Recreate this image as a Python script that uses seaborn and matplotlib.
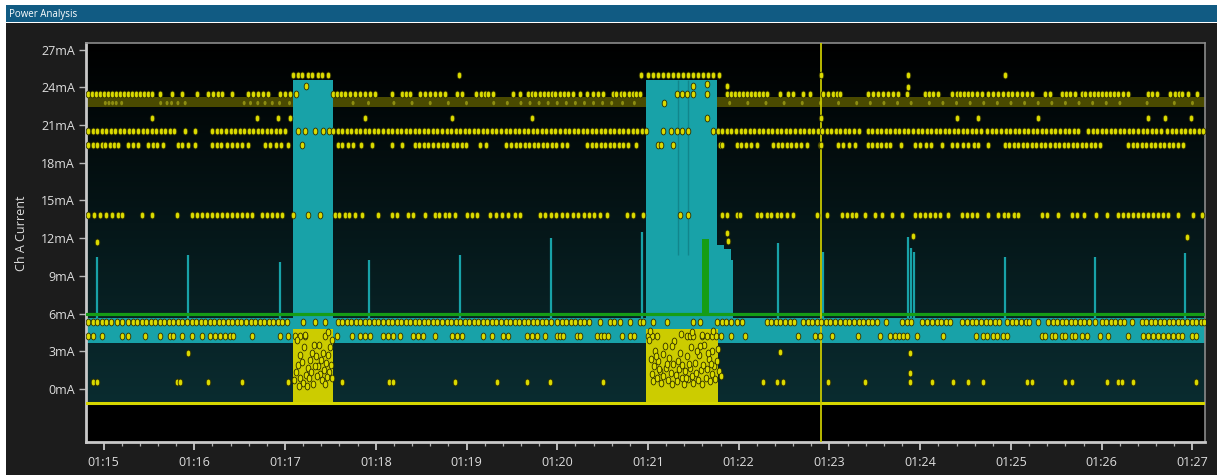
import numpy as np
import pandas as pd
import matplotlib
matplotlib.use("Agg")
import matplotlib.pyplot as plt
import seaborn as sns
from matplotlib.path import Path
from matplotlib.transforms import Affine2D
from matplotlib.patches import Rectangle
from matplotlib.ticker import MultipleLocator, FuncFormatter, FixedLocator
from matplotlib.colors import LinearSegmentedColormap

# ---------------- data (time in minutes past 01:00, current in mA) ----------------
row_a_ma = 23.5
row_a_t = [14.83, 14.87, 14.92, 14.96, 15.01, 15.05, 15.09, 15.14, 15.18, 15.23, 15.27, 15.31,
           15.36, 15.40, 15.45, 15.49, 15.53, 15.62, 15.75, 15.86, 16.03, 16.15, 16.21, 16.26,
           16.31, 16.42, 16.59, 16.65, 16.70, 16.76, 16.81, 16.95, 17.00, 17.06, 17.12,
           17.53, 17.57, 17.62, 17.66, 17.72, 17.77, 17.83, 17.88, 17.94, 17.99, 18.18, 18.29,
           18.33, 18.38, 18.49, 18.54, 18.60, 18.65, 18.71, 18.76, 18.90, 18.95, 19.11, 19.16,
           19.20, 19.24, 19.29, 19.51, 19.59, 19.68, 19.72, 19.76, 19.81, 19.85, 19.90, 19.94,
           19.98, 20.03, 20.07, 20.12, 20.17, 20.25, 20.33, 20.39, 20.45, 20.50, 20.61, 20.65,
           20.70, 20.74, 20.79, 20.83, 20.87, 20.91, 21.32, 21.37, 21.43, 21.50, 21.65, 21.87,
           21.92, 21.96, 22.00, 22.05, 22.09, 22.14, 22.18, 22.22, 22.27, 22.31, 22.45, 22.54,
           22.60, 22.71, 22.78, 22.93, 22.98, 23.04, 23.08, 23.12, 23.42, 23.48, 23.53, 23.59,
           23.64, 23.70, 23.75, 23.85, 24.05, 24.10, 24.14, 24.20, 24.35, 24.40, 24.44, 24.48,
           24.53, 24.57, 24.63, 24.68, 24.75, 24.80, 24.86, 24.91, 24.97, 25.01, 25.07, 25.12,
           25.18, 25.23, 25.38, 25.43, 25.56, 25.61, 25.65, 25.70, 25.78, 25.82, 25.87, 25.91,
           25.96, 26.00, 26.05, 26.09, 26.13, 26.18, 26.23, 26.29, 26.51, 26.55, 26.61, 26.75,
           26.81, 26.85, 26.88, 26.95, 27.05]

row_b_ma = 22.75
row_b_t = [15.02, 15.06, 15.10, 15.14, 15.20, 15.63, 15.70, 15.75, 15.82, 15.90, 16.55, 16.62,
           16.70, 16.78, 16.86, 16.94, 17.05, 17.20, 17.30, 17.38, 17.46, 17.75, 17.92, 18.20,
           18.40, 18.60, 18.80, 19.00, 19.30, 19.45, 19.60, 19.70, 19.80, 19.90, 20.00, 20.10,
           20.20, 20.30, 20.40, 20.50, 20.60, 20.72, 20.85, 21.10, 21.20, 21.30, 21.40, 21.50,
           21.60, 21.70, 21.90, 22.10, 22.30, 22.50, 22.70, 22.90, 23.10, 23.30, 23.45, 23.60,
           23.75, 23.90, 24.10, 24.25, 24.40, 24.55, 24.70, 24.85, 25.00, 25.15, 25.30, 25.45,
           25.60, 25.75, 25.90, 26.05, 26.20, 26.50, 26.80, 27.00]

row_c_ma = 20.55
row_c_t = [14.83, 14.88, 14.93, 14.98, 15.03, 15.08, 15.13, 15.18, 15.23, 15.28, 15.33, 15.38,
           15.43, 15.48, 15.53, 15.58, 15.63, 15.68, 15.73, 15.78, 15.90, 16.01, 16.20, 16.25,
           16.30, 16.35, 16.40, 16.45, 16.50, 16.55, 16.60, 16.65, 16.70, 16.75, 16.80, 16.85,
           16.90, 16.95, 17.00, 17.14, 17.22, 17.33, 17.42, 17.48, 17.53, 17.58, 17.63, 17.68,
           17.73, 17.78, 17.83, 17.88, 17.93, 17.98, 18.03, 18.08, 18.13, 18.18, 18.23, 18.28,
           18.33, 18.38, 18.43, 18.48, 18.53, 18.58, 18.63, 18.68, 18.73, 18.78, 18.83, 18.88,
           18.93, 18.98, 19.03, 19.08, 19.13, 19.18, 19.23, 19.28, 19.33, 19.38, 19.43, 19.48,
           19.53, 19.58, 19.63, 19.68, 19.73, 19.78, 19.83, 19.88, 19.93, 19.98, 20.03, 20.08,
           20.13, 20.18, 20.23, 20.28, 20.33, 20.38, 20.43, 20.48, 20.53, 20.58, 20.63, 20.68,
           20.73, 20.78, 20.83, 20.88, 20.93, 20.98, 21.17, 21.25, 21.32, 21.37, 21.44, 21.72,
           21.77, 21.82, 21.87, 21.92, 21.97, 22.02, 22.07, 22.12, 22.17, 22.22, 22.27, 22.32,
           22.37, 22.42, 22.47, 22.52, 22.57, 22.62, 22.67, 22.72, 22.77, 22.82, 22.87, 22.92,
           22.97, 23.02, 23.07, 23.12, 23.17, 23.22, 23.27, 23.32, 23.42, 23.47, 23.52, 23.57,
           23.62, 23.67, 23.72, 23.77, 23.82, 23.87, 23.92, 23.97, 24.02, 24.07, 24.12, 24.17,
           24.22, 24.27, 24.32, 24.37, 24.42, 24.47, 24.52, 24.57, 24.62, 24.67, 24.74, 24.79,
           24.84, 24.89, 24.94, 24.99, 25.04, 25.09, 25.14, 25.19, 25.24, 25.29, 25.34, 25.39,
           25.44, 25.49, 25.54, 25.59, 25.64, 25.69, 25.74, 25.85, 25.90, 25.95, 26.00, 26.05,
           26.10, 26.15, 26.20, 26.25, 26.30, 26.35, 26.40, 26.45, 26.50, 26.55, 26.60, 26.65,
           26.72, 26.77, 26.82, 26.87, 26.92, 26.97, 27.02, 27.07, 27.12]

row_d_ma = 19.4
row_d_t = [14.83, 14.88, 14.93, 14.98, 15.02, 15.07, 15.12, 15.16, 15.27, 15.32, 15.38, 15.49,
           15.54, 15.59, 15.66, 15.82, 15.87, 15.93, 16.01, 16.20, 16.25, 16.30, 16.36, 16.42,
           16.47, 16.53, 16.59, 16.78, 16.84, 16.90, 16.96, 17.03, 17.19, 17.58, 17.63, 17.69,
           17.75, 17.84, 17.96, 18.18, 18.29, 18.43, 18.48, 18.53, 18.58, 18.63, 18.69, 18.74,
           18.79, 18.85, 18.90, 18.95, 18.99, 19.15, 19.22, 19.44, 19.49, 19.54, 19.59, 19.64,
           19.69, 19.74, 19.79, 19.84, 19.89, 19.94, 19.99, 20.05, 20.11, 20.33, 20.38, 20.43,
           20.48, 20.53, 20.58, 20.63, 20.68, 20.73, 20.78, 20.87, 21.11, 21.14, 21.28, 21.79,
           21.82, 21.98, 22.03, 22.08, 22.13, 22.20, 22.38, 22.43, 22.48, 22.53, 22.58, 22.63,
           22.69, 22.75, 22.90, 23.09, 23.15, 23.21, 23.28, 23.42, 23.47, 23.52, 23.57, 23.62,
           23.67, 23.79, 23.94, 24.00, 24.06, 24.12, 24.24, 24.35, 24.41, 24.47, 24.53, 24.59,
           24.64, 24.75, 24.93, 24.98, 25.03, 25.08, 25.13, 25.18, 25.23, 25.28, 25.33, 25.38,
           25.43, 25.48, 25.53, 25.58, 25.63, 25.68, 25.73, 25.78, 25.83, 25.88, 25.93, 25.98,
           26.29, 26.34, 26.39, 26.44, 26.49, 26.54, 26.59, 26.64, 26.69, 26.74, 26.79, 26.84,
           26.90]

row_e_ma = 21.55
row_e_t = [15.53, 16.69, 16.92, 17.06, 17.88, 18.84, 19.72, 21.65, 22.91, 24.41, 24.64, 25.30,
           26.51, 26.70, 26.98]

row_top_ma = 25.0
row_top_t = [17.09, 17.14, 17.19, 17.25, 17.30, 17.36, 17.41, 17.47, 18.92, 20.92, 21.00,
             21.06, 21.11, 21.17, 21.22, 21.28, 21.33, 21.39, 21.44, 21.50, 21.55, 21.61,
             21.66, 21.72, 21.78, 22.91, 23.86, 24.93]

row_f_ma = 13.85
row_f_t = [14.83, 14.90, 14.96, 15.03, 15.09, 15.16, 15.20, 15.42, 15.53, 15.81, 15.98, 16.03,
           16.09, 16.14, 16.20, 16.25, 16.31, 16.36, 16.42, 16.47, 16.53, 16.58, 16.64, 16.75,
           16.80, 16.86, 16.91, 16.97, 17.09, 17.25, 17.39, 17.55, 17.60, 17.66, 17.71, 17.77,
           17.85, 18.02, 18.18, 18.23, 18.35, 18.41, 18.54, 18.65, 18.70, 18.76, 18.81, 18.87,
           19.01, 19.06, 19.12, 19.26, 19.33, 19.39, 19.46, 19.53, 19.59, 19.81, 19.87, 19.93,
           19.99, 20.05, 20.11, 20.17, 20.23, 20.29, 20.35, 20.41, 20.47, 20.55, 20.77, 20.83,
           20.94, 21.35, 21.44, 21.82, 21.87, 21.98, 22.01, 22.20, 22.25, 22.31, 22.36, 22.42,
           22.47, 22.53, 22.60, 22.86, 22.97, 23.14, 23.19, 23.25, 23.29, 23.39, 23.50, 23.58,
           23.69, 23.80, 23.94, 24.00, 24.05, 24.11, 24.16, 24.22, 24.31, 24.46, 24.52, 24.57,
           24.63, 24.75, 24.86, 24.92, 24.97, 25.03, 25.08, 25.34, 25.40, 25.52, 25.67, 25.73,
           25.80, 25.94, 26.06, 26.18, 26.23, 26.29, 26.34, 26.40, 26.45, 26.51, 26.56, 26.62,
           26.67, 26.73, 26.84, 27.01, 27.10]

row_h_ma = 5.33
row_h_t = [14.83, 14.88, 14.93, 14.98, 15.03, 15.08, 15.15, 15.20, 15.27, 15.32, 15.37, 15.42,
           15.47, 15.52, 15.57, 15.62, 15.67, 15.72, 15.77, 15.82, 15.87, 15.92, 15.97, 16.02,
           16.07, 16.12, 16.17, 16.22, 16.27, 16.32, 16.37, 16.42, 16.47, 16.52, 16.57, 16.62,
           16.67, 16.72, 16.77, 16.82, 16.87, 16.92, 16.97, 17.02, 17.20, 17.33, 17.44, 17.58,
           17.63, 17.68, 17.73, 17.78, 17.83, 17.88, 17.93, 17.98, 18.03, 18.08, 18.13, 18.18,
           18.23, 18.28, 18.33, 18.38, 18.43, 18.48, 18.53, 18.58, 18.63, 18.68, 18.73, 18.78,
           18.83, 18.88, 18.93, 18.98, 19.03, 19.08, 19.13, 19.18, 19.23, 19.28, 19.33, 19.38,
           19.43, 19.48, 19.53, 19.58, 19.63, 19.68, 19.73, 19.78, 19.83, 19.88, 19.93, 20.00,
           20.05, 20.10, 20.15, 20.20, 20.25, 20.30, 20.35, 20.47, 20.58, 20.63, 20.69, 20.80,
           20.91, 20.94, 21.06, 21.21, 21.50, 21.57, 21.76, 21.81, 21.86, 21.91, 21.98, 22.04,
           22.31, 22.36, 22.41, 22.46, 22.51, 22.56, 22.61, 22.71, 22.76, 22.81, 22.86, 22.91,
           22.96, 23.01, 23.06, 23.12, 23.17, 23.22, 23.27, 23.32, 23.37, 23.42, 23.47, 23.52,
           23.62, 23.80, 23.85, 23.90, 24.02, 24.08, 24.13, 24.18, 24.23, 24.28, 24.33, 24.46,
           24.52, 24.57, 24.62, 24.67, 24.72, 24.77, 24.82, 24.87, 24.96, 25.01, 25.06, 25.11,
           25.16, 25.20, 25.30, 25.41, 25.46, 25.51, 25.56, 25.61, 25.66, 25.71, 25.76, 25.81,
           25.86, 25.93, 26.00, 26.05, 26.10, 26.15, 26.20, 26.25, 26.33, 26.44, 26.49, 26.54,
           26.59, 26.64, 26.69, 26.74, 26.79, 26.84, 26.89, 26.94, 26.99, 27.04, 27.09, 27.13]

row_i_ma = 4.22
row_i_t = [14.83, 14.88, 14.98, 15.20, 15.27, 15.46, 15.62, 15.73, 15.77, 15.87, 15.98, 16.09,
           16.17, 16.23, 16.28, 16.34, 16.39, 16.43, 16.64, 16.94, 17.03, 17.11, 17.16, 17.22,
           17.44, 17.57, 17.74, 17.83, 17.88, 17.94, 18.08, 18.13, 18.19, 18.27, 18.41, 18.47,
           18.52, 18.65, 18.84, 18.90, 18.95, 19.18, 19.28, 19.40, 19.46, 19.67, 19.72, 19.78,
           19.87, 20.00, 20.03, 20.06, 20.22, 20.25, 20.44, 20.48, 20.52, 20.56, 20.71, 20.80,
           20.85, 21.00, 21.04, 21.10, 21.43, 21.46, 21.50, 21.60, 21.65, 21.71, 21.75, 21.80,
           21.91, 22.07, 22.65, 22.84, 22.90, 23.03, 23.31, 23.56, 23.67, 23.72, 23.77, 23.81,
           23.85, 23.96, 24.25, 24.62, 24.69, 24.74, 24.80, 24.85, 24.91, 24.96, 25.34, 25.38,
           25.45, 25.49, 25.56, 25.60, 25.67, 25.71, 25.78, 25.84, 25.98, 26.07, 26.29, 26.45,
           26.51, 26.56, 26.62, 26.67, 26.73, 26.78, 26.84, 26.89, 26.99, 27.04]

row_j_ma = 0.56
row_j_t = [14.88, 14.93, 15.81, 15.84, 16.15, 16.53, 17.03, 17.63, 18.15, 18.19, 18.87, 19.34,
           19.67, 19.92, 20.50, 22.27, 22.42, 22.49, 22.98, 23.39, 23.89, 24.13, 24.36, 24.53,
           24.69, 25.18, 25.23, 25.59, 25.67, 26.06, 26.18, 26.22, 26.34, 27.04]

# scattered single readings
extra_t = [14.93, 15.93, 22.45, 23.89, 23.89, 23.92, 26.94, 21.87, 21.88, 17.23, 21.50, 21.65,
           21.87, 23.86, 21.18, 22.91]
extra_ma = [11.7, 2.9, 2.95, 2.9, 1.3, 12.2, 12.1, 12.4, 11.8, 24.1, 24.1, 24.3,
            24.1, 24.0, 22.75, 19.4]

# dense readings during the two active bursts
burst1_t = [17.13, 17.17, 17.14, 17.12, 17.17, 17.20, 17.23, 17.25, 17.28, 17.30, 17.32, 17.34,
            17.36, 17.39, 17.41, 17.43, 17.45, 17.47, 17.50, 17.52, 17.21, 17.26, 17.31, 17.35,
            17.40, 17.44, 17.48, 17.51, 17.15, 17.24, 17.33, 17.37, 17.42, 17.46, 17.19, 17.29,
            17.22, 17.47, 17.10, 17.52]
burst1_ma = [3.9, 2.7, 1.9, 1.35, 0.9, 0.5, 1.1, 1.7, 2.3, 2.9, 3.5, 2.6,
             1.8, 1.2, 0.7, 1.5, 2.1, 2.7, 3.3, 3.9, 3.3, 0.9, 0.4, 1.0,
             2.3, 0.4, 1.35, 1.9, 0.25, 0.25, 1.8, 3.5, 2.9, 0.95, 2.15, 1.35,
             4.3, 4.5, 0.7, 0.9]
burst2_t = [21.01, 21.03, 21.04, 21.05, 21.07, 21.08, 21.10, 21.11, 21.13, 21.14, 21.16, 21.17,
            21.19, 21.20, 21.22, 21.23, 21.25, 21.26, 21.28, 21.29, 21.31, 21.32, 21.34, 21.35,
            21.37, 21.38, 21.40, 21.41, 21.43, 21.44, 21.46, 21.47, 21.49, 21.50, 21.52, 21.53,
            21.55, 21.56, 21.58, 21.59, 21.61, 21.62, 21.64, 21.65, 21.67, 21.68, 21.70, 21.71,
            21.73, 21.74, 21.76, 21.78, 21.02, 21.36, 21.48, 21.60, 21.72, 21.26, 21.57, 21.80,
            21.12, 21.21, 21.33, 21.45, 21.66, 21.09, 21.42, 21.54, 21.69, 21.77]
burst2_ma = [3.9, 2.4, 1.2, 0.6, 1.8, 3.0, 0.9, 2.2, 1.4, 0.5, 2.8, 1.0,
             3.4, 1.7, 0.7, 2.5, 1.3, 0.4, 2.0, 3.8, 1.1, 0.6, 1.6, 2.9,
             0.9, 1.9, 0.4, 1.4, 2.6, 0.8, 1.7, 3.3, 1.0, 0.5, 2.1, 1.3,
             0.7, 2.7, 1.5, 0.4, 1.9, 3.5, 0.9, 1.6, 2.4, 0.6, 1.2, 3.0,
             1.8, 0.8, 2.2, 1.4, 4.6, 4.4, 4.5, 4.3, 4.6, 3.4, 3.4, 1.0,
             1.6, 2.0, 2.2, 2.0, 2.9, 2.6, 0.9, 3.0, 2.0, 3.2]

# ranges / levels
baseline_ma = -1.09
floor_band = (3.65, 5.65)
upper_band = (22.45, 23.2)
limit_ma = 6.0
burst_start = [17.09, 20.98]
burst_end = [17.53, 21.76]
burst_top = [24.6, 24.6]
burst_low_top = 4.8
burst_yel_end = [17.53, 21.77]
spike_t = [14.93, 15.93, 16.95, 17.93, 18.93, 19.93, 20.93, 22.43, 22.93, 23.87, 23.90, 23.93,
           24.93, 25.93, 26.92]
spike_top = [10.5, 10.7, 10.1, 10.3, 10.65, 12.05, 12.5, 11.6, 10.9, 12.1, 11.2, 10.9,
             10.5, 10.5, 10.85]
tail_t = [21.76, 21.84, 21.91, 21.94]
tail_top = [11.45, 11.1, 10.3, 10.3]
inner_t = [21.33, 21.44]
inner_low = 10.7
green_bar_t = [21.59, 21.67]
green_bar_top = 11.9
cursor_t = 22.91
x_range = (14.807, 27.138)
y_range = (-4.22, 27.53)
y_ticks = [0, 3, 6, 9, 12, 15, 18, 21, 24, 27]
x_ticks = [15, 16, 17, 18, 19, 20, 21, 22, 23, 24, 25, 26, 27]

# ---------------- styling ----------------
sns.set_theme(style="dark")
plt.rcParams['font.family'] = ['Open Sans', 'DejaVu Sans']

TEAL = '#18a2a8'
YEL = '#d6d600'
GREEN = '#169d16'

W, H = 1217, 475
fig = plt.figure(figsize=(W / 100, H / 100), dpi=100, facecolor='white')
fig.patches.append(Rectangle((6 / W, 0), 1, (H - 23) / H, transform=fig.transFigure,
                             facecolor='#1c1c1c', edgecolor='none', zorder=-5))
fig.patches.append(Rectangle((6 / W, (H - 22) / H), 1, 17 / H, transform=fig.transFigure,
                             facecolor='#115b83', edgecolor='none', zorder=-5))
fig.text(9 / W, (H - 14) / H, "Power Analysis", color='white', fontsize=7, va='center',
         ha='left')

ax = fig.add_axes([86 / W, 33 / H, 1119 / W, 399 / H])
ax.set_zorder(2)
ax.set_facecolor('black')

# background gradient above the baseline
cmap = LinearSegmentedColormap.from_list('bg', ['#0a2c30', '#000000'])
grad = np.linspace(0, 1, 256).reshape(-1, 1)
ax.imshow(grad, extent=[x_range[0], x_range[1], baseline_ma, y_range[1]], origin='lower',
          aspect='auto', cmap=cmap, zorder=0, interpolation='bicubic')

ax.fill_between(list(x_range), upper_band[0], upper_band[1], color='#4a4a00', lw=0, zorder=1)
ax.fill_between(list(x_range), floor_band[0], floor_band[1], color=TEAL, lw=0, zorder=2)
for s, e, top in zip(burst_start, burst_end, burst_top):
    ax.fill_between([s, e], floor_band[0], top, color=TEAL, lw=0, zorder=2.5)
ax.vlines(inner_t, inner_low, burst_top[1], color='#11868c', lw=1.0, zorder=2.6)
ax.vlines(spike_t, floor_band[1] - 0.2, spike_top, color=TEAL, lw=1.6, zorder=2.5)
ax.fill_between(tail_t, floor_band[1] - 0.2, tail_top, step='post', color=TEAL, lw=0, zorder=2.5)
ax.fill_between(green_bar_t, limit_ma, green_bar_top, color=GREEN, lw=0, zorder=3)
for s, e in zip(burst_start, burst_yel_end):
    ax.fill_between([s, e], baseline_ma, burst_low_top, color='#cccc00', lw=0, zorder=3.5)
ax.axhline(limit_ma, color=GREEN, lw=2.3, zorder=4)
ax.axhline(baseline_ma, color=YEL, lw=2.2, zorder=4)
ax.axvline(cursor_t, color='#c8c800', lw=1.3, zorder=4.5)

# faint readings inside the upper band
dim = pd.DataFrame({'t': row_b_t, 'mA': [row_b_ma] * len(row_b_t)})
ell = Path.unit_circle().transformed(Affine2D().scale(0.68, 1.0))
sns.scatterplot(data=dim, x='t', y='mA', ax=ax, marker=ell, s=10, color='#8c8c10',
                edgecolor='none', linewidth=0, zorder=1.5, legend=False)

# readings
parts = []
for ts, lvl in [(row_a_t, row_a_ma), (row_c_t, row_c_ma), (row_d_t, row_d_ma),
                (row_e_t, row_e_ma), (row_top_t, row_top_ma), (row_f_t, row_f_ma),
                (row_h_t, row_h_ma), (row_i_t, row_i_ma), (row_j_t, row_j_ma)]:
    parts.append(pd.DataFrame({'t': ts, 'mA': [lvl] * len(ts)}))
parts.append(pd.DataFrame({'t': extra_t, 'mA': extra_ma}))
parts.append(pd.DataFrame({'t': burst1_t, 'mA': burst1_ma}))
parts.append(pd.DataFrame({'t': burst2_t, 'mA': burst2_ma}))
df = pd.concat(parts, ignore_index=True)

sns.scatterplot(data=df, x='t', y='mA', ax=ax, marker=ell, s=24, color='#dada00',
                edgecolor='#2e2e00', linewidth=0.6, zorder=5, legend=False)

ax.set_xlim(*x_range)
ax.set_ylim(*y_range)
ax.grid(False)
ax.set_xlabel('')
ax.set_ylabel('')

ax.yaxis.set_major_locator(FixedLocator(y_ticks))
ax.yaxis.set_major_formatter(FuncFormatter(lambda v, p: f"{int(round(v))}mA"))
ax.xaxis.set_major_locator(FixedLocator(x_ticks))
ax.xaxis.set_minor_locator(MultipleLocator(0.2))
ax.xaxis.set_major_formatter(FuncFormatter(lambda v, p: f"01:{int(round(v)):02d}"))

ax.tick_params(axis='y', which='major', left=True, length=5, width=1.0, color='#b8b8b8',
               labelcolor='#dddddd', labelsize=9, pad=3, direction='out')
ax.tick_params(axis='x', which='major', bottom=True, length=6, width=1.3, color='#c8c8c8',
               labelcolor='#dddddd', labelsize=9, pad=4, direction='out')
ax.tick_params(axis='x', which='minor', bottom=True, length=3, width=0.9, color='#b0b0b0',
               direction='out')

for side in ['left', 'bottom']:
    ax.spines[side].set_color('#c8c8c8')
    ax.spines[side].set_linewidth(2.0)
for side in ['top', 'right']:
    ax.spines[side].set_color('#8a8a8a')
    ax.spines[side].set_linewidth(1.2)
    ax.spines[side].set_visible(True)

fig.text(22 / W, (H - 233) / H, "Ch A Current", rotation=90, color='#dddddd', fontsize=9,
         ha='center', va='center')

fig.savefig('out.png', dpi=100, facecolor=fig.get_facecolor())
